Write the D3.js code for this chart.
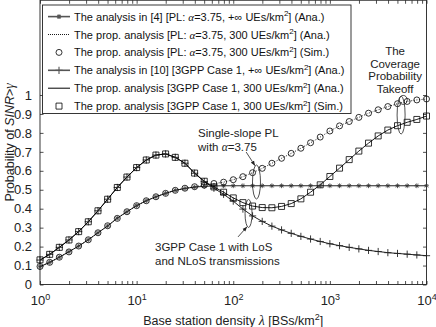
<!DOCTYPE html>
<html>
<head>
<meta charset="utf-8">
<script src="https://cdn.jsdelivr.net/npm/d3@7"></script>
<style>
  body { margin: 0; background: #fff; }
  svg { display: block; font-family: "Liberation Sans", Arial, sans-serif; }
  .greek { font-family: "Liberation Serif", "Times New Roman", serif; font-style: italic; }
</style>
</head>
<body>
<svg id="chart" width="436" height="327"></svg>
<script>
// BS density (BSs/km^2), 10 points per decade
const density = [1, 1.259, 1.585, 1.995, 2.512, 3.162, 3.981, 5.012, 6.310, 7.943,
    10, 12.59, 15.85, 19.95, 25.12, 31.62, 39.81, 50.12, 63.10, 79.43,
    100, 125.9, 158.5, 199.5, 251.2, 316.2, 398.1, 501.2, 631.0, 794.3,
    1000, 1259, 1585, 1995, 2512, 3162, 3981, 5012, 6310, 7943, 10000];

// The analysis in [4], PL alpha=3.75, infinite UEs (Ana.)
const plInf = [0.094, 0.117, 0.144, 0.173, 0.203, 0.236, 0.273, 0.309, 0.350, 0.384,
    0.416, 0.442, 0.463, 0.481, 0.497, 0.507, 0.514, 0.518, 0.520, 0.521,
    0.521, 0.521, 0.521, 0.521, 0.521, 0.521, 0.521, 0.521, 0.521, 0.521,
    0.521, 0.521, 0.521, 0.521, 0.521, 0.521, 0.521, 0.521, 0.521, 0.521, 0.521];

// prop. analysis, PL alpha=3.75, 300 UEs (Ana.)
const pl300 = [0.094, 0.117, 0.144, 0.173, 0.203, 0.236, 0.273, 0.309, 0.350, 0.384,
    0.416, 0.442, 0.463, 0.481, 0.497, 0.507, 0.516, 0.524, 0.532, 0.540,
    0.553, 0.569, 0.590, 0.613, 0.640, 0.666, 0.692, 0.719, 0.748, 0.778,
    0.810, 0.837, 0.860, 0.882, 0.904, 0.922, 0.939, 0.954, 0.966, 0.974, 0.979];

// prop. analysis, PL alpha=3.75, 300 UEs (Sim.)
const pl300Sim = [0.095, 0.117, 0.144, 0.172, 0.203, 0.236, 0.273, 0.310, 0.349, 0.384,
    0.416, 0.442, 0.463, 0.481, 0.497, 0.508, 0.516, 0.524, 0.533, 0.540,
    0.553, 0.569, 0.590, 0.613, 0.640, 0.666, 0.692, 0.719, 0.748, 0.778,
    0.810, 0.837, 0.860, 0.882, 0.904, 0.922, 0.939, 0.954, 0.966, 0.974, 0.979];

// The analysis in [10], 3GPP Case 1, infinite UEs (Ana.)
const gppInf = [0.129, 0.159, 0.196, 0.235, 0.279, 0.331, 0.389, 0.450, 0.512, 0.567,
    0.617, 0.657, 0.683, 0.689, 0.671, 0.640, 0.587, 0.543, 0.508, 0.476,
    0.440, 0.398, 0.362, 0.333, 0.308, 0.288, 0.270, 0.254, 0.240, 0.227,
    0.215, 0.205, 0.196, 0.188, 0.180, 0.174, 0.168, 0.164, 0.160, 0.156, 0.152];

// prop. analysis, 3GPP Case 1, 300 UEs (Ana.)
const gpp300 = [0.129, 0.159, 0.196, 0.235, 0.279, 0.331, 0.389, 0.450, 0.512, 0.567,
    0.617, 0.657, 0.683, 0.689, 0.671, 0.640, 0.588, 0.545, 0.515, 0.487,
    0.457, 0.432, 0.414, 0.406, 0.405, 0.412, 0.427, 0.452, 0.487, 0.526,
    0.570, 0.614, 0.659, 0.704, 0.746, 0.784, 0.815, 0.838, 0.856, 0.871, 0.889];

// prop. analysis, 3GPP Case 1, 300 UEs (Sim.)
const gpp300Sim = [0.130, 0.159, 0.196, 0.235, 0.279, 0.331, 0.389, 0.450, 0.512, 0.567,
    0.617, 0.657, 0.683, 0.689, 0.671, 0.640, 0.588, 0.545, 0.515, 0.487,
    0.457, 0.432, 0.414, 0.406, 0.405, 0.412, 0.427, 0.452, 0.487, 0.526,
    0.570, 0.614, 0.659, 0.704, 0.746, 0.784, 0.815, 0.838, 0.856, 0.871, 0.889];

const yTicks = [0, 0.1, 0.2, 0.3, 0.4, 0.5, 0.6, 0.7, 0.8, 0.9, 1];
const yTickLabels = ["0", "0.1", "0.2", "0.3", "0.4", "0.5", "0.6", "0.7", "0.8", "0.9", "1"];
const xDecades = [1, 10, 100, 1000, 10000];
const xDecadeExp = ["0", "1", "2", "3", "4"];

const legendRows = [
    { pre: "The analysis in [4] [PL: ", greek: "\u03b1", post: "=3.75, +\u221e UEs/km", tail: "] (Ana.)", line: "solid", marker: "asterisk", color: "#555", width: 1.6 },
    { pre: "The prop. analysis [PL: ", greek: "\u03b1", post: "=3.75, 300 UEs/km", tail: "] (Ana.)", line: "dotted", marker: null, color: "#000", width: 0.9 },
    { pre: "The prop. analysis [PL: ", greek: "\u03b1", post: "=3.75, 300 UEs/km", tail: "] (Sim.)", line: null, marker: "circle", color: "#000", width: 0.9 },
    { pre: "The analysis in [10] [3GPP Case 1, +\u221e UEs/km", greek: null, post: "", tail: "] (Ana.)", line: "solid", marker: "plus", color: "#555", width: 1.6 },
    { pre: "The prop. analysis [3GPP Case 1, 300 UEs/km", greek: null, post: "", tail: "] (Ana.)", line: "solid", marker: null, color: "#000", width: 1 },
    { pre: "The prop. analysis [3GPP Case 1, 300 UEs/km", greek: null, post: "", tail: "] (Sim.)", line: null, marker: "square", color: "#000", width: 0.9 }
];

const svg = d3.select("#chart");
const plotLeft = 40, plotRight = 426.5, plotTop = 0.25, plotBottom = 284.5;

const x = d3.scaleLog().domain([1, 10000]).range([plotLeft, plotRight]);
const y = d3.scaleLinear().domain([0, 1.5]).range([plotBottom, plotTop]);

// all log ticks incl. minor ones
let xTicks = [];
for (let d = 1; d < 10000; d *= 10) {
    for (let k = 1; k < 10; k++) xTicks.push(d * k);
}
xTicks.push(10000);

function markerPath(type, px, py) {
    if (type === "circle") {
        const r = 3;
        return `M${px - r},${py}a${r},${r} 0 1,0 ${2 * r},0a${r},${r} 0 1,0 ${-2 * r},0`;
    }
    if (type === "square") {
        const h = 3;
        return `M${px - h},${py - h}h${2 * h}v${2 * h}h${-2 * h}Z`;
    }
    if (type === "plus") {
        const h = 3.6;
        return `M${px - h},${py}h${2 * h}M${px},${py - h}v${2 * h}`;
    }
    if (type === "asterisk") {
        const h = 2.4, s = h * 0.7071;
        return `M${px - h},${py}h${2 * h}M${px},${py - h}v${2 * h}` +
            `M${px - s},${py - s}L${px + s},${py + s}M${px - s},${py + s}L${px + s},${py - s}`;
    }
    return "";
}

// axes ticks (inward), box
const gAxes = svg.append("g").attr("stroke-width", 0.8);

const bottomAxis = d3.axisBottom(x).tickValues(xTicks).tickFormat("").tickSizeInner(-3.5).tickSizeOuter(0);
const topAxis = d3.axisTop(x).tickValues(xTicks).tickFormat("").tickSizeInner(-3.5).tickSizeOuter(0);
const leftAxis = d3.axisLeft(y).tickValues(yTicks).tickFormat((d, i) => yTickLabels[i])
    .tickSizeInner(-3.5).tickSizeOuter(0).tickPadding(8);
const rightAxis = d3.axisRight(y).tickValues(yTicks).tickFormat("").tickSizeInner(-3.5).tickSizeOuter(0);

const gb = gAxes.append("g").attr("transform", `translate(0,${plotBottom})`).call(bottomAxis);
gAxes.append("g").attr("transform", `translate(0,${plotTop})`).call(topAxis);
const gl = gAxes.append("g").attr("transform", `translate(${plotLeft},0)`).call(leftAxis);
gAxes.append("g").attr("transform", `translate(${plotRight},0)`).call(rightAxis);
gAxes.selectAll(".domain").remove();
gAxes.selectAll(".tick line").attr("stroke", "#222");
gl.selectAll(".tick text").attr("font-size", 13).attr("fill", "#222")
    .attr("font-family", "'Liberation Sans', Arial, sans-serif");

// decade labels with superscripts
gb.selectAll(".tick").filter(d => xDecades.includes(d)).each(function (d) {
    const t = d3.select(this).append("text")
        .attr("y", 20).attr("fill", "#222").attr("text-anchor", "middle")
        .attr("font-size", 13).attr("font-family", "'Liberation Sans', Arial, sans-serif");
    t.append("tspan").text("10");
    t.append("tspan").attr("dy", -5).attr("font-size", 9).text(xDecadeExp[xDecades.indexOf(d)]);
});

svg.append("rect").attr("x", plotLeft).attr("y", plotTop).attr("width", plotRight - plotLeft).attr("height", plotBottom - plotTop)
    .attr("fill", "none").attr("stroke", "#222").attr("stroke-width", 0.9);

// axis titles
const xl = svg.append("text").attr("x", (plotLeft + plotRight) / 2).attr("y", 324.5)
    .attr("text-anchor", "middle").attr("font-size", 12.5).attr("fill", "#222");
xl.append("tspan").text("Base station density ");
xl.append("tspan").attr("class", "greek").attr("font-size", 14).text("\u03bb");
xl.append("tspan").text(" [BSs/km");
xl.append("tspan").attr("dy", -5).attr("font-size", 9).text("2");
xl.append("tspan").attr("dy", 5).text("]");

const yl = svg.append("text").attr("transform", `translate(14,${(plotTop + plotBottom) / 2}) rotate(-90)`)
    .attr("text-anchor", "middle").attr("font-size", 12.5).attr("fill", "#222");
yl.append("tspan").text("Probability of ");
yl.append("tspan").attr("font-style", "italic").text("SINR");
yl.append("tspan").text(">");
yl.append("tspan").attr("class", "greek").attr("font-size", 14).text("\u03b3");

// curves
const plot = svg.append("g");
const zip = vals => density.map((lam, i) => ({ lam, v: vals[i] }));
const line = d3.line().x(d => x(d.lam)).y(d => y(d.v));

plot.append("path").datum(zip(plInf)).attr("d", line).attr("fill", "none").attr("stroke", "#222").attr("stroke-width", 1);
plot.append("path").datum(zip(gppInf)).attr("d", line).attr("fill", "none").attr("stroke", "#222").attr("stroke-width", 1);
plot.append("path").datum(zip(gpp300)).attr("d", line).attr("fill", "none").attr("stroke", "#000").attr("stroke-width", 0.9);
plot.append("path").datum(zip(pl300)).attr("d", line).attr("fill", "none").attr("stroke", "#000")
    .attr("stroke-width", 0.9).attr("stroke-dasharray", "1,1.6");

const markerSets = [
    { vals: plInf, type: "asterisk", color: "#333", w: 0.8 },
    { vals: gppInf, type: "plus", color: "#222", w: 0.9 },
    { vals: pl300Sim, type: "circle", color: "#000", w: 0.8 },
    { vals: gpp300Sim, type: "square", color: "#000", w: 0.8 }
];
markerSets.forEach(ms => {
    plot.append("g").selectAll("path").data(zip(ms.vals)).join("path")
        .attr("d", d => markerPath(ms.type, x(d.lam), y(d.v)))
        .attr("fill", "none").attr("stroke", ms.color).attr("stroke-width", ms.w);
});

// annotations (positions in data space)
const ann = svg.append("g").attr("fill", "#222").attr("font-size", 11.5);
svg.append("defs").append("marker").attr("id", "ah")
    .attr("viewBox", "0 0 10 10").attr("refX", 10).attr("refY", 5)
    .attr("markerWidth", 6).attr("markerHeight", 6).attr("orient", "auto-start-reverse")
    .append("path").attr("d", "M0,1L10,5L0,9Z").attr("fill", "#222");

function ellipse(lam, v, rx, ry) {
    ann.append("ellipse").attr("cx", x(lam)).attr("cy", y(v)).attr("rx", rx).attr("ry", ry)
        .attr("fill", "none").attr("stroke", "#222").attr("stroke-width", 0.8);
}
function arrow(l0, v0, l1, v1) {
    ann.append("line").attr("x1", x(l0)).attr("y1", y(v0)).attr("x2", x(l1)).attr("y2", y(v1))
        .attr("stroke", "#222").attr("stroke-width", 0.8).attr("marker-end", "url(#ah)");
}

ann.append("text").attr("x", x(43.2)).attr("y", y(0.777)).text("Single-slope PL");
const t2 = ann.append("text").attr("x", x(43.2)).attr("y", y(0.707));
t2.append("tspan").text("with ");
t2.append("tspan").attr("class", "greek").text("\u03b1");
t2.append("tspan").text("=3.75");
ellipse(174, 0.541, 4, 17);
arrow(136, 0.699, 168, 0.627);

ann.append("text").attr("x", x(15.5)).attr("y", y(0.178)).text("3GPP Case 1 with LoS");
ann.append("text").attr("x", x(15.5)).attr("y", y(0.104)).text("and NLoS transmissions");
ellipse(144, 0.375, 3.5, 14);
arrow(112, 0.251, 139, 0.305);

["The", "Coverage", "Probability", "Takeoff"].forEach((s, i) => {
    ann.append("text").attr("x", x(4730)).attr("y", y(1.211 - i * 0.067))
        .attr("text-anchor", "middle").text(s);
});
ellipse(5460, 0.894, 4, 19);
ellipse(5750, 0.974, 4, 4.5);

// legend
const lg = svg.append("g");
lg.append("rect").attr("x", 42.5).attr("y", 5).attr("width", 308.5).attr("height", 108.5)
    .attr("fill", "#fff").attr("stroke", "#222").attr("stroke-width", 0.9);
legendRows.forEach((r, i) => {
    const cy = 16.6 + i * 17.9;
    const g = lg.append("g");
    if (r.line) {
        g.append("line").attr("x1", 48).attr("x2", 70).attr("y1", cy).attr("y2", cy)
            .attr("stroke", r.color).attr("stroke-width", r.width)
            .attr("stroke-dasharray", r.line === "dotted" ? "1,1" : null);
    }
    if (r.marker) {
        g.append("path").attr("d", markerPath(r.marker, 59, cy))
            .attr("fill", "none").attr("stroke", r.color).attr("stroke-width", r.marker === "asterisk" || r.marker === "plus" ? 1.1 : 0.8);
    }
    const t = g.append("text").attr("x", 74).attr("y", cy + 4).attr("font-size", 11).attr("fill", "#111");
    t.append("tspan").text(r.pre);
    if (r.greek) {
        t.append("tspan").attr("class", "greek").text(r.greek);
        t.append("tspan").text(r.post);
    }
    t.append("tspan").attr("dy", -4.5).attr("font-size", 8).text("2");
    t.append("tspan").attr("dy", 4.5).text(r.tail);
});
</script>
</body>
</html>
